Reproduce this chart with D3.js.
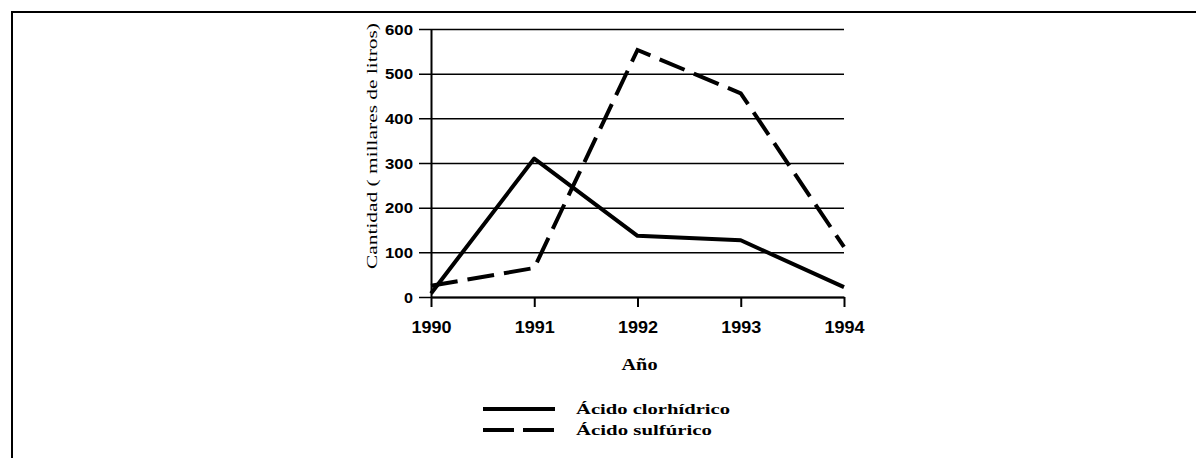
<!DOCTYPE html>
<html>
<head>
<meta charset="utf-8">
<script src="https://cdn.jsdelivr.net/npm/d3@7"></script>
<style>
  body { margin: 0; background: #fff; }
  svg { display: block; }
  .axis path, .axis line { stroke: #000; }
  .ytick text { font-family: 'Liberation Sans', Arial, sans-serif; font-weight: bold; font-size: 14px; fill: #000; }
  .xtick text { font-family: 'Liberation Sans', Arial, sans-serif; font-weight: bold; font-size: 17px; fill: #000; }
  .serif { font-family: 'Liberation Serif', 'Times New Roman', serif; fill: #000; }
</style>
</head>
<body>
<div id="chart"></div>
<script>
// data
const years = [1990, 1991, 1992, 1993, 1994];
const clorhidrico = [8, 310, 137, 127, 22];
const sulfurico = [25, 65, 553, 456, 112];
const yTicks = [0, 100, 200, 300, 400, 500, 600];
const seriesNames = ['Ácido clorhídrico', 'Ácido sulfúrico'];

const W = 1196, H = 458;
const plotLeft = 431, plotRight = 844, plotTop = 29, plotBottom = 297;

const svg = d3.select('#chart').append('svg')
  .attr('width', W)
  .attr('height', H);

// frame (top and left edges only are visible)
svg.append('path')
  .attr('d', `M12,${H} L12,12 L${W},12`)
  .attr('fill', 'none')
  .attr('stroke', '#000')
  .attr('stroke-width', 2);

// scales
const x = d3.scaleLinear().domain([1990, 1994]).range([plotLeft, plotRight]);
const y = d3.scaleLinear().domain([0, 600]).range([plotBottom, plotTop]);

// y axis with gridlines
const yAxis = svg.append('g')
  .attr('class', 'axis ytick')
  .attr('transform', `translate(${plotLeft},0)`)
  .call(d3.axisLeft(y).tickValues(yTicks).tickSizeOuter(0));
yAxis.select('.domain').attr('stroke-width', 2);
yAxis.selectAll('.tick line')
  .attr('x1', -12)
  .attr('x2', plotRight - plotLeft)
  .attr('stroke-width', 1.5);
yAxis.selectAll('.tick text')
  .attr('x', -18)
  .attr('dy', '0.36em')
  .attr('textLength', function(d) { return d === 0 ? 9 : 28; })
  .attr('lengthAdjust', 'spacingAndGlyphs');

// x axis
const xAxis = svg.append('g')
  .attr('class', 'axis xtick')
  .attr('transform', `translate(0,${plotBottom})`)
  .call(d3.axisBottom(x).tickValues(years).tickFormat(d3.format('d')).tickSize(10).tickSizeOuter(0));
xAxis.select('.domain').attr('stroke-width', 2);
xAxis.selectAll('.tick line').attr('stroke-width', 2);
xAxis.selectAll('.tick text')
  .attr('y', 36)
  .attr('dy', 0)
  .attr('textLength', 40)
  .attr('lengthAdjust', 'spacingAndGlyphs');

// axis titles
svg.append('text')
  .attr('class', 'serif')
  .attr('x', (plotLeft + plotRight) / 2 + 2)
  .attr('y', 370)
  .attr('text-anchor', 'middle')
  .attr('font-size', 16)
  .attr('font-weight', 'bold')
  .attr('textLength', 36)
  .attr('lengthAdjust', 'spacingAndGlyphs')
  .text('Año');

svg.append('text')
  .attr('class', 'serif')
  .attr('transform', 'translate(377,146) rotate(-90)')
  .attr('text-anchor', 'middle')
  .attr('font-size', 15)
  .attr('textLength', 246)
  .attr('lengthAdjust', 'spacingAndGlyphs')
  .text('Cantidad ( millares de litros)');

// lines
const line = d3.line()
  .x(function(d, i) { return x(years[i]); })
  .y(function(d) { return y(d); });

svg.append('path')
  .datum(clorhidrico)
  .attr('d', line)
  .attr('fill', 'none')
  .attr('stroke', '#000')
  .attr('stroke-width', 4)
  .attr('stroke-linejoin', 'round');

svg.append('path')
  .datum(sulfurico)
  .attr('d', line)
  .attr('fill', 'none')
  .attr('stroke', '#000')
  .attr('stroke-width', 4)
  .attr('stroke-dasharray', '27,10');

// legend
const legend = svg.selectAll('.legend')
  .data(seriesNames)
  .enter()
  .append('g')
  .attr('class', 'legend')
  .attr('transform', function(d, i) { return `translate(0, ${409 + i * 21})`; });

legend.append('line')
  .attr('x1', 483)
  .attr('x2', 555)
  .attr('stroke', '#000')
  .attr('stroke-width', 4)
  .attr('stroke-dasharray', function(d, i) { return i === 0 ? null : '31,9'; });

legend.append('text')
  .attr('class', 'serif')
  .attr('x', 576)
  .attr('y', 5)
  .attr('font-size', 15)
  .attr('font-weight', 'bold')
  .attr('textLength', function(d, i) { return i === 0 ? 154 : 136; })
  .attr('lengthAdjust', 'spacingAndGlyphs')
  .text(function(d) { return d; });
</script>
</body>
</html>
